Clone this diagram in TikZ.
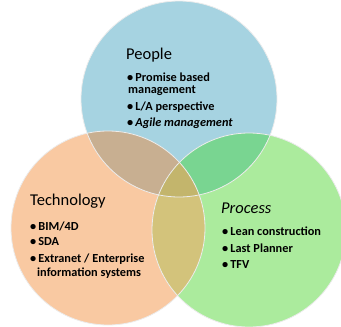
\documentclass[tikz,border=0pt]{standalone}
\usepackage{fontspec}
\setmainfont{Carlito}
\begin{document}
\begin{tikzpicture}[x=1pt,y=-1pt,
  title/.style={anchor=base west,inner sep=0pt,font=\fontsize{16.5}{18}\selectfont},
  item/.style={anchor=base west,inner sep=0pt,font=\bfseries\fontsize{12.3}{14}\selectfont},
  ring/.style={draw=white!85!gray,line width=0.8pt}]
\definecolor{cblue}{HTML}{A6D3E1}
\definecolor{corange}{HTML}{F9C9A2}
\definecolor{cgreen}{HTML}{ABEB9D}
\definecolor{cbo}{HTML}{C8AF91}
\definecolor{cbg}{HTML}{79D591}
\definecolor{cog}{HTML}{D3C37B}
\definecolor{call}{HTML}{C3B56C}
\useasboundingbox (0,0) rectangle (341,327);
\coordinate (P) at (179,99);
\coordinate (T) at (108,228);
\coordinate (R) at (249,230);
\def\rP{98}\def\rT{97}\def\rR{97}
\fill[cblue] (P) circle (\rP);
\fill[corange] (T) circle (\rT);
\fill[cgreen] (R) circle (\rR);
\begin{scope}\clip (P) circle (\rP); \fill[cbo] (T) circle (\rT); \fill[cbg] (R) circle (\rR);\end{scope}
\begin{scope}\clip (T) circle (\rT); \fill[cog] (R) circle (\rR);
  \clip (P) circle (\rP); \fill[call] (R) circle (\rR);\end{scope}
\draw[ring] (P) circle (\rP);
\draw[ring] (T) circle (\rT);
\draw[ring] (R) circle (\rR);
% People
\node[title] (pt) at (126,59) {People};
\node[item] (p1) at (127,81) {\textbullet\,Promise based};
\node[item] (p2) at (128,93) {management};
\node[item] (p3) at (127,110) {\textbullet\,L/A perspective};
\node[item] (p4) at (127,126) {\textbullet\,\itshape Agile management};
% Technology
\node[title] (tt) at (30,205) {Technology};
\node[item] (t1) at (30,230) {\textbullet\,BIM/4D};
\node[item] (t2) at (30,245) {\textbullet\,SDA};
\node[item] (t3) at (30,262) {\textbullet\,Extranet / Enterprise};
\node[item] (t4) at (37,276) {information systems};
% Process
\node[title,font=\itshape\fontsize{16.5}{18}\selectfont] (rt) at (221,213) {Process};
\node[item] (r1) at (222,235) {\textbullet\,Lean construction};
\node[item] (r2) at (222,252) {\textbullet\,Last Planner};
\node[item] (r3) at (222,268) {\textbullet\,TFV};
\end{tikzpicture}
\end{document}
